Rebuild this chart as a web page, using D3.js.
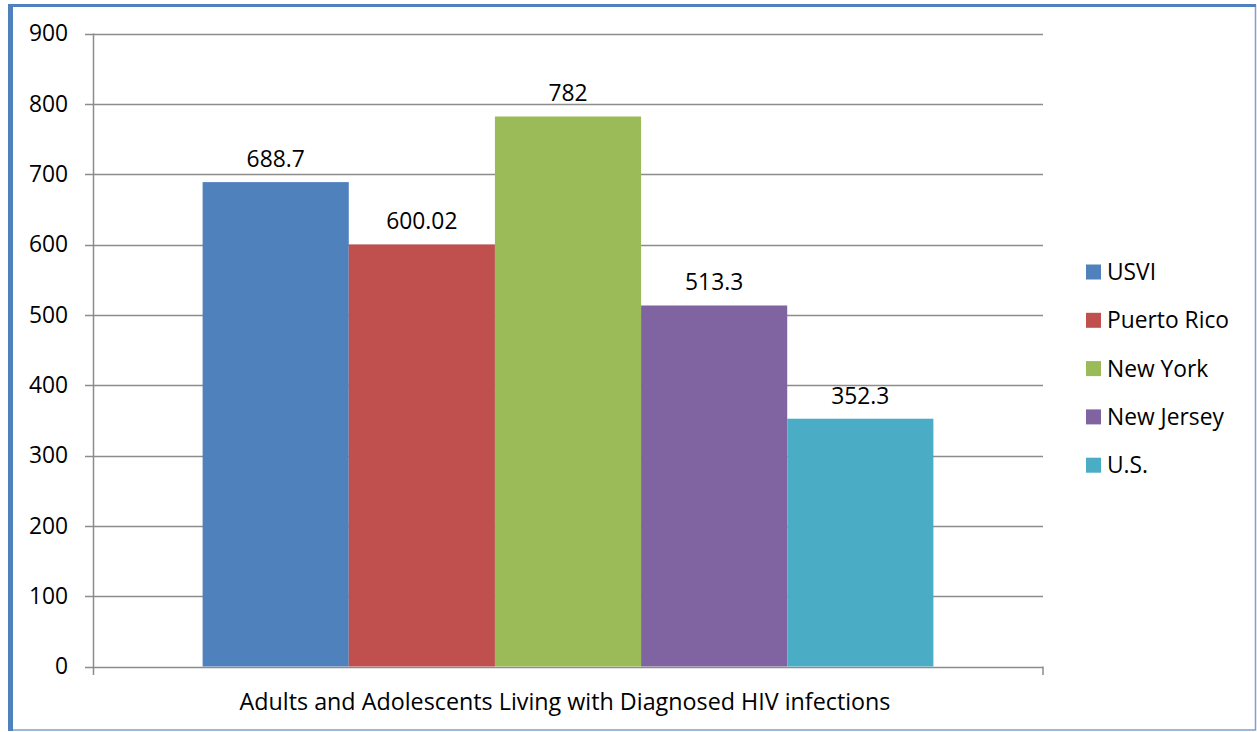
<!DOCTYPE html>
<html><head><meta charset="utf-8">
<script src="https://cdn.jsdelivr.net/npm/d3@7"></script>
<style>body{margin:0;background:#fff;} svg{display:block;} text{font-family:"Open Sans",sans-serif;fill:#000;}</style>
</head><body><svg id="c" width="1257" height="732"></svg>
<script>
const category = ["Adults and Adolescents Living with Diagnosed HIV infections"];
const seriesNames = ["USVI","Puerto Rico","New York","New Jersey","U.S."];
const seriesValues = [688.7, 600.02, 782, 513.3, 352.3];
const valueLabels = ["688.7","600.02","782","513.3","352.3"];
const seriesColors = ["#4F81BD","#C0504D","#9BBB59","#8064A2","#4BACC6"];
const yTicks = [0,100,200,300,400,500,600,700,800,900];

const FS = "22.8px";
const svg = d3.select("#c");
// frame
svg.append("rect").attr("x",10.5).attr("y",5.5).attr("width",1245).attr("height",724.5)
  .attr("fill","none").attr("stroke","#7EA0D0").attr("stroke-width",1.5);
svg.append("line").attr("x1",10.5).attr("x2",1256).attr("y1",5.5).attr("y2",5.5).attr("stroke","#4F81BD").attr("stroke-width",3);
svg.append("line").attr("x1",10.5).attr("x2",10.5).attr("y1",4).attr("y2",731).attr("stroke","#4F81BD").attr("stroke-width",5);

const x0 = 93, x1 = 1043, yTop = 33.5, yBot = 666.5;
const y = d3.scaleLinear().domain([0,900]).range([yBot,yTop]);
const xBand = d3.scaleBand().domain(category).range([x0,x1]).paddingInner(0).paddingOuter(0.15);
const xs = d3.scaleBand().domain(seriesNames).range([0,xBand.bandwidth()]).padding(0);

// gridlines
svg.append("g").selectAll("line").data(yTicks).join("line")
  .attr("x1",85).attr("x2",x1).attr("y1",d=>Math.round(y(d))+0.5).attr("y2",d=>Math.round(y(d))+0.5)
  .attr("stroke","#8C8C8C").attr("stroke-width",1.5);
// y axis
svg.append("line").attr("x1",x0+0.5).attr("x2",x0+0.5).attr("y1",yTop).attr("y2",675).attr("stroke","#8C8C8C").attr("stroke-width",1.5);
svg.append("line").attr("x1",x1).attr("x2",x1).attr("y1",yBot).attr("y2",675).attr("stroke","#8C8C8C").attr("stroke-width",1.5);
svg.append("g").selectAll("text").data(yTicks).join("text")
  .attr("x",68).attr("y",d=>y(d)).attr("dy","0.35em").attr("text-anchor","end")
  .style("font-size",FS).text(d=>d);

// bars
const g = svg.append("g").attr("transform",`translate(${xBand(category[0])},0)`);
g.selectAll("rect").data(seriesNames).join("rect")
  .attr("x",d=>xs(d)).attr("width",xs.bandwidth())
  .attr("y",(d,i)=>y(seriesValues[i])).attr("height",(d,i)=>yBot-y(seriesValues[i]))
  .attr("fill",(d,i)=>seriesColors[i]);
g.selectAll("text").data(seriesNames).join("text")
  .attr("x",d=>xs(d)+xs.bandwidth()/2).attr("y",(d,i)=>y(seriesValues[i])-23).attr("dy","0.35em")
  .attr("text-anchor","middle").style("font-size",FS).text((d,i)=>valueLabels[i]);

// x axis label
svg.append("text").attr("x",(x0+x1)/2-3).attr("y",702).attr("dy","0.35em").attr("text-anchor","middle")
  .style("font-size","23.3px").text(category[0]);

// legend
const lg = svg.append("g").selectAll("g").data(seriesNames).join("g")
  .attr("transform",(d,i)=>`translate(1086,${272+i*48.3})`);
lg.append("rect").attr("x",0).attr("y",-7.5).attr("width",15).attr("height",15).attr("fill",(d,i)=>seriesColors[i]);
lg.append("text").attr("x",21).attr("y",0).attr("dy","0.35em").style("font-size",FS).text(d=>d);
</script></body></html>
